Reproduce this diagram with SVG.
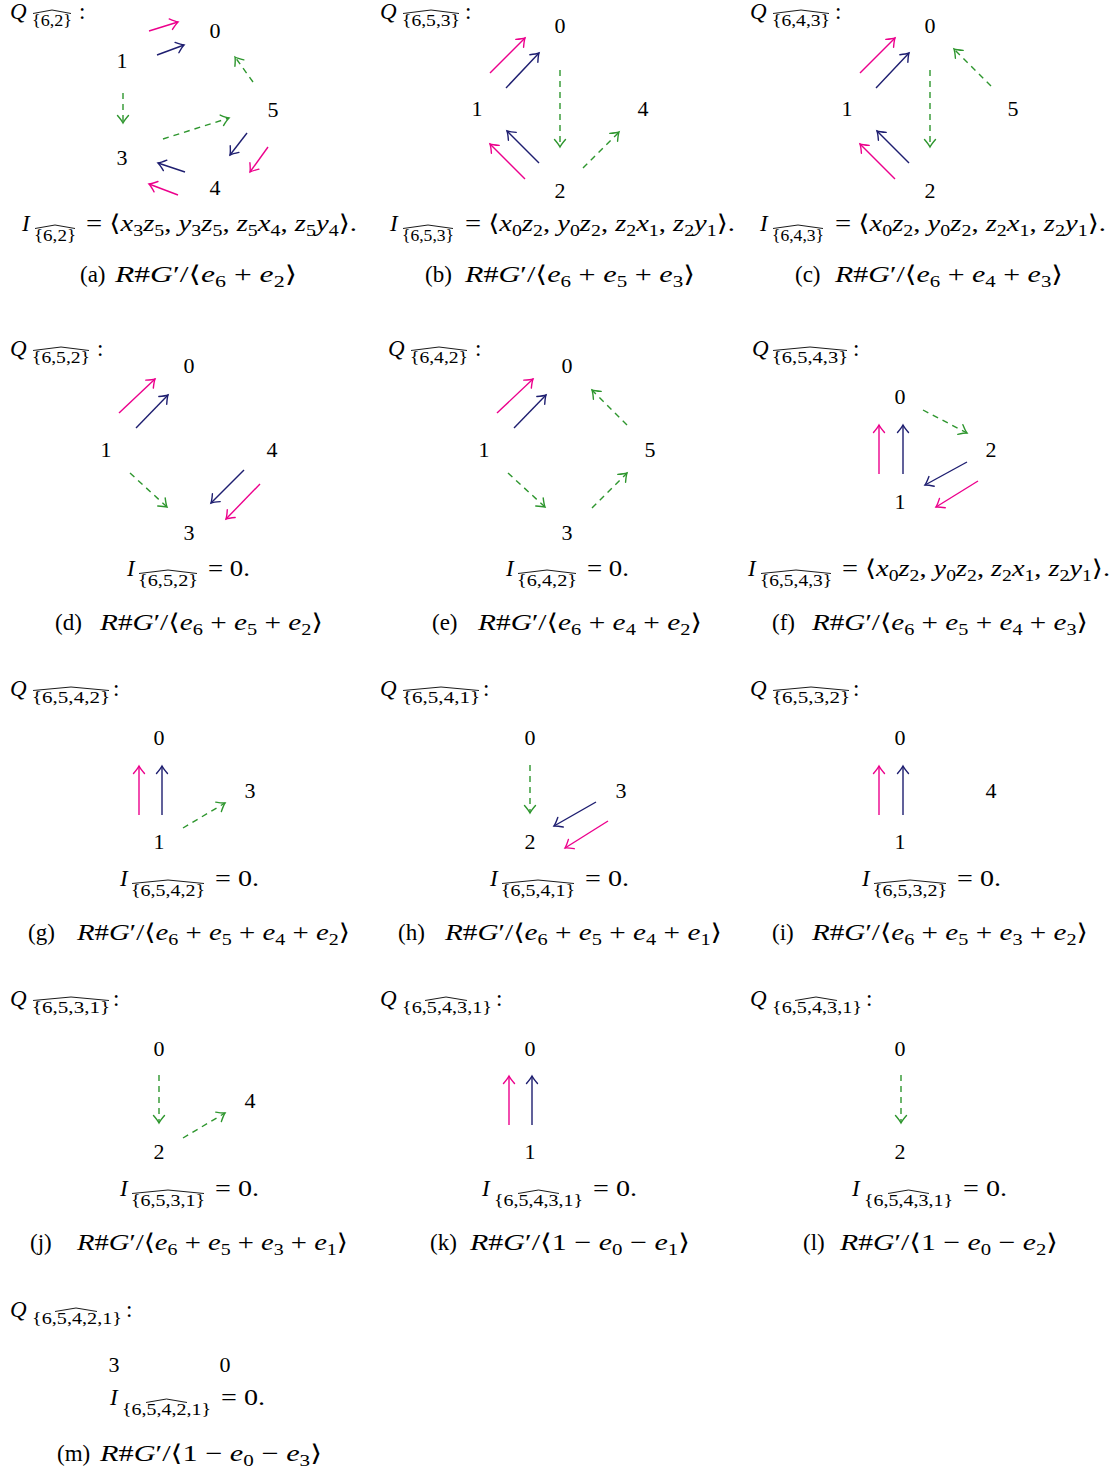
<svg xmlns="http://www.w3.org/2000/svg" width="1118" height="1472" viewBox="0 0 1118 1472">
<style>
.t{font-family:"Liberation Serif","DejaVu Serif",serif;font-size:23px;fill:#000}
.n{font-family:"Liberation Serif","DejaVu Serif",serif;font-size:22px;fill:#000;text-anchor:middle}
.i{font-style:italic}
.s{font-size:16px}
.hat{fill:none;stroke:#000;stroke-width:0.9;stroke-linejoin:round}
.pk{fill:none;stroke:#ec008c;stroke-width:1.4;marker-end:url(#mp)}
.bl{fill:none;stroke:#1e1e70;stroke-width:1.4;marker-end:url(#mb)}
.gr{fill:none;stroke:#2e962e;stroke-width:1.4;stroke-dasharray:6 5;marker-end:url(#mg)}
</style>
<defs>
<marker id="mp" viewBox="-9 -7 10 14" refX="0" refY="0" markerWidth="10" markerHeight="14" markerUnits="userSpaceOnUse" orient="auto" overflow="visible"><path d="M-7.5,-5.5 Q-2.5,-1.2 0,0 Q-2.5,1.2 -7.5,5.5" fill="none" stroke="#ec008c" stroke-width="1.4" stroke-linecap="round"/></marker>
<marker id="mb" viewBox="-9 -7 10 14" refX="0" refY="0" markerWidth="10" markerHeight="14" markerUnits="userSpaceOnUse" orient="auto" overflow="visible"><path d="M-7.5,-5.5 Q-2.5,-1.2 0,0 Q-2.5,1.2 -7.5,5.5" fill="none" stroke="#1e1e70" stroke-width="1.4" stroke-linecap="round"/></marker>
<marker id="mg" viewBox="-9 -7 10 14" refX="0" refY="0" markerWidth="10" markerHeight="14" markerUnits="userSpaceOnUse" orient="auto" overflow="visible"><path d="M-7.5,-5.5 Q-2.5,-1.2 0,0 Q-2.5,1.2 -7.5,5.5" fill="none" stroke="#2e962e" stroke-width="1.4" stroke-linecap="round"/></marker>
</defs>

<!-- (a) -->
<g id="panel-a">
<g id="a-label"><text class="t i" x="10" y="19">Q</text><text class="t s" x="32" y="26" textLength="40" lengthAdjust="spacingAndGlyphs">{6,2}</text><path class="hat" d="M33,13.5 L52,10 L71,13.5"/><text class="t" x="79" y="19">:</text></g>
<g id="a-n0"><text class="n" x="215" y="37.5">0</text></g>
<g id="a-n1"><text class="n" x="122" y="67.5">1</text></g>
<g id="a-n5"><text class="n" x="273" y="116.5">5</text></g>
<g id="a-n3"><text class="n" x="122" y="164.5">3</text></g>
<g id="a-n4"><text class="n" x="215" y="194.5">4</text></g>
<g id="a-edges">
<path class="pk" d="M149,31 L178,22"/><path class="bl" d="M157,55 L184,45"/>
<path class="gr" d="M253,82 L235,57"/><path class="gr" d="M123,93 L123,123"/><path class="gr" d="M163,139 L229,118"/>
<path class="bl" d="M247,133 L230,155"/><path class="pk" d="M268,147 L250,172"/>
<path class="bl" d="M185,172 L158,163"/><path class="pk" d="M178,195 L149,184"/>
</g>
<g id="a-formula"><text class="t i" x="22" y="231">I</text><text class="t s" x="34" y="241" textLength="42" lengthAdjust="spacingAndGlyphs">{6,2}</text><path class="hat" d="M35,228.5 L55,225 L75,228.5"/><text class="t" x="86" y="231" textLength="271" lengthAdjust="spacingAndGlyphs">= ⟨<tspan class="i">x</tspan><tspan class="s" dy="5">3</tspan><tspan class="i" dy="-5">z</tspan><tspan class="s" dy="5">5</tspan><tspan dy="-5">, </tspan><tspan class="i">y</tspan><tspan class="s" dy="5">3</tspan><tspan class="i" dy="-5">z</tspan><tspan class="s" dy="5">5</tspan><tspan dy="-5">, </tspan><tspan class="i">z</tspan><tspan class="s" dy="5">5</tspan><tspan class="i" dy="-5">x</tspan><tspan class="s" dy="5">4</tspan><tspan dy="-5">, </tspan><tspan class="i">z</tspan><tspan class="s" dy="5">5</tspan><tspan class="i" dy="-5">y</tspan><tspan class="s" dy="5">4</tspan><tspan dy="-5">⟩.</tspan></text></g>
<g id="a-caption"><text class="t" x="80" y="282">(a)</text><text class="t" x="115" y="282" textLength="182" lengthAdjust="spacingAndGlyphs"><tspan class="i">R</tspan>#<tspan class="i">G</tspan>′/⟨<tspan class="i">e</tspan><tspan class="s" dy="5">6</tspan><tspan dy="-5"> + </tspan><tspan class="i">e</tspan><tspan class="s" dy="5">2</tspan><tspan dy="-5">⟩</tspan></text></g>
</g>

<!-- (b) -->
<g id="panel-b">
<g id="b-label"><text class="t i" x="380" y="19">Q</text><text class="t s" x="402" y="26" textLength="58" lengthAdjust="spacingAndGlyphs">{6,5,3}</text><path class="hat" d="M403,13.5 L431,10 L459,13.5"/><text class="t" x="465" y="19">:</text></g>
<g id="b-n0"><text class="n" x="560" y="32.5">0</text></g>
<g id="b-n1"><text class="n" x="477" y="115.5">1</text></g>
<g id="b-n4"><text class="n" x="643" y="115.5">4</text></g>
<g id="b-n2"><text class="n" x="560" y="197.5">2</text></g>
<g id="b-edges">
<path class="pk" d="M490,73 L525,38"/><path class="bl" d="M506,88 L539,53"/>
<path class="gr" d="M560,70 L560,147"/><path class="gr" d="M583,168 L619,132"/>
<path class="bl" d="M539,163 L507,131"/><path class="pk" d="M525,179 L490,144"/>
</g>
<g id="b-formula"><text class="t i" x="390" y="231">I</text><text class="t s" x="402" y="241" textLength="52" lengthAdjust="spacingAndGlyphs">{6,5,3}</text><path class="hat" d="M403,228.5 L428,225 L453,228.5"/><text class="t" x="465" y="231" textLength="270" lengthAdjust="spacingAndGlyphs">= ⟨<tspan class="i">x</tspan><tspan class="s" dy="5">0</tspan><tspan class="i" dy="-5">z</tspan><tspan class="s" dy="5">2</tspan><tspan dy="-5">, </tspan><tspan class="i">y</tspan><tspan class="s" dy="5">0</tspan><tspan class="i" dy="-5">z</tspan><tspan class="s" dy="5">2</tspan><tspan dy="-5">, </tspan><tspan class="i">z</tspan><tspan class="s" dy="5">2</tspan><tspan class="i" dy="-5">x</tspan><tspan class="s" dy="5">1</tspan><tspan dy="-5">, </tspan><tspan class="i">z</tspan><tspan class="s" dy="5">2</tspan><tspan class="i" dy="-5">y</tspan><tspan class="s" dy="5">1</tspan><tspan dy="-5">⟩.</tspan></text></g>
<g id="b-caption"><text class="t" x="425" y="282">(b)</text><text class="t" x="465" y="282" textLength="230" lengthAdjust="spacingAndGlyphs"><tspan class="i">R</tspan>#<tspan class="i">G</tspan>′/⟨<tspan class="i">e</tspan><tspan class="s" dy="5">6</tspan><tspan dy="-5"> + </tspan><tspan class="i">e</tspan><tspan class="s" dy="5">5</tspan><tspan dy="-5"> + </tspan><tspan class="i">e</tspan><tspan class="s" dy="5">3</tspan><tspan dy="-5">⟩</tspan></text></g>
</g>

<!-- (c) -->
<g id="panel-c">
<g id="c-label"><text class="t i" x="750" y="19">Q</text><text class="t s" x="772" y="26" textLength="58" lengthAdjust="spacingAndGlyphs">{6,4,3}</text><path class="hat" d="M773,13.5 L801,10 L829,13.5"/><text class="t" x="835" y="19">:</text></g>
<g id="c-n0"><text class="n" x="930" y="32.5">0</text></g>
<g id="c-n1"><text class="n" x="847" y="115.5">1</text></g>
<g id="c-n5"><text class="n" x="1013" y="115.5">5</text></g>
<g id="c-n2"><text class="n" x="930" y="197.5">2</text></g>
<g id="c-edges">
<path class="pk" d="M860,73 L895,38"/><path class="bl" d="M876,88 L909,53"/>
<path class="gr" d="M930,70 L930,147"/><path class="gr" d="M991,86 L954,49"/>
<path class="bl" d="M909,163 L877,131"/><path class="pk" d="M895,179 L860,144"/>
</g>
<g id="c-formula"><text class="t i" x="760" y="231">I</text><text class="t s" x="772" y="241" textLength="52" lengthAdjust="spacingAndGlyphs">{6,4,3}</text><path class="hat" d="M773,228.5 L798,225 L823,228.5"/><text class="t" x="835" y="231" textLength="271" lengthAdjust="spacingAndGlyphs">= ⟨<tspan class="i">x</tspan><tspan class="s" dy="5">0</tspan><tspan class="i" dy="-5">z</tspan><tspan class="s" dy="5">2</tspan><tspan dy="-5">, </tspan><tspan class="i">y</tspan><tspan class="s" dy="5">0</tspan><tspan class="i" dy="-5">z</tspan><tspan class="s" dy="5">2</tspan><tspan dy="-5">, </tspan><tspan class="i">z</tspan><tspan class="s" dy="5">2</tspan><tspan class="i" dy="-5">x</tspan><tspan class="s" dy="5">1</tspan><tspan dy="-5">, </tspan><tspan class="i">z</tspan><tspan class="s" dy="5">2</tspan><tspan class="i" dy="-5">y</tspan><tspan class="s" dy="5">1</tspan><tspan dy="-5">⟩.</tspan></text></g>
<g id="c-caption"><text class="t" x="795" y="282">(c)</text><text class="t" x="835" y="282" textLength="228" lengthAdjust="spacingAndGlyphs"><tspan class="i">R</tspan>#<tspan class="i">G</tspan>′/⟨<tspan class="i">e</tspan><tspan class="s" dy="5">6</tspan><tspan dy="-5"> + </tspan><tspan class="i">e</tspan><tspan class="s" dy="5">4</tspan><tspan dy="-5"> + </tspan><tspan class="i">e</tspan><tspan class="s" dy="5">3</tspan><tspan dy="-5">⟩</tspan></text></g>
</g>

<!-- (d) -->
<g id="panel-d">
<g id="d-label"><text class="t i" x="10" y="356">Q</text><text class="t s" x="32" y="363" textLength="58" lengthAdjust="spacingAndGlyphs">{6,5,2}</text><path class="hat" d="M33,350.5 L61,347 L89,350.5"/><text class="t" x="97" y="356">:</text></g>
<g id="d-n0"><text class="n" x="189" y="372.5">0</text></g>
<g id="d-n1"><text class="n" x="106" y="456.5">1</text></g>
<g id="d-n4"><text class="n" x="272" y="456.5">4</text></g>
<g id="d-n3"><text class="n" x="189" y="539.5">3</text></g>
<g id="d-edges">
<path class="pk" d="M119,413 L155,379"/><path class="bl" d="M136,428 L168,395"/>
<path class="gr" d="M130,473 L167,507"/>
<path class="bl" d="M244,470 L211,503"/><path class="pk" d="M260,484 L226,519"/>
</g>
<g id="d-formula"><text class="t i" x="127" y="576">I</text><text class="t s" x="138" y="586" textLength="60" lengthAdjust="spacingAndGlyphs">{6,5,2}</text><path class="hat" d="M139,573.5 L168,570 L197,573.5"/><text class="t" x="208" y="576" textLength="42" lengthAdjust="spacingAndGlyphs">= 0.</text></g>
<g id="d-caption"><text class="t" x="55" y="630">(d)</text><text class="t" x="100" y="630" textLength="223" lengthAdjust="spacingAndGlyphs"><tspan class="i">R</tspan>#<tspan class="i">G</tspan>′/⟨<tspan class="i">e</tspan><tspan class="s" dy="5">6</tspan><tspan dy="-5"> + </tspan><tspan class="i">e</tspan><tspan class="s" dy="5">5</tspan><tspan dy="-5"> + </tspan><tspan class="i">e</tspan><tspan class="s" dy="5">2</tspan><tspan dy="-5">⟩</tspan></text></g>
</g>

<!-- (e) -->
<g id="panel-e">
<g id="e-label"><text class="t i" x="388" y="356">Q</text><text class="t s" x="410" y="363" textLength="58" lengthAdjust="spacingAndGlyphs">{6,4,2}</text><path class="hat" d="M411,350.5 L439,347 L467,350.5"/><text class="t" x="475" y="356">:</text></g>
<g id="e-n0"><text class="n" x="567" y="372.5">0</text></g>
<g id="e-n1"><text class="n" x="484" y="456.5">1</text></g>
<g id="e-n5"><text class="n" x="650" y="456.5">5</text></g>
<g id="e-n3"><text class="n" x="567" y="539.5">3</text></g>
<g id="e-edges">
<path class="pk" d="M497,413 L533,379"/><path class="bl" d="M514,428 L546,395"/>
<path class="gr" d="M508,473 L545,507"/><path class="gr" d="M592,508 L627,473"/><path class="gr" d="M627,425 L592,390"/>
</g>
<g id="e-formula"><text class="t i" x="506" y="576">I</text><text class="t s" x="517" y="586" textLength="60" lengthAdjust="spacingAndGlyphs">{6,4,2}</text><path class="hat" d="M518,573.5 L547,570 L576,573.5"/><text class="t" x="587" y="576" textLength="42" lengthAdjust="spacingAndGlyphs">= 0.</text></g>
<g id="e-caption"><text class="t" x="432" y="630">(e)</text><text class="t" x="478" y="630" textLength="224" lengthAdjust="spacingAndGlyphs"><tspan class="i">R</tspan>#<tspan class="i">G</tspan>′/⟨<tspan class="i">e</tspan><tspan class="s" dy="5">6</tspan><tspan dy="-5"> + </tspan><tspan class="i">e</tspan><tspan class="s" dy="5">4</tspan><tspan dy="-5"> + </tspan><tspan class="i">e</tspan><tspan class="s" dy="5">2</tspan><tspan dy="-5">⟩</tspan></text></g>
</g>

<!-- (f) -->
<g id="panel-f">
<g id="f-label"><text class="t i" x="752" y="356">Q</text><text class="t s" x="772" y="363" textLength="76" lengthAdjust="spacingAndGlyphs">{6,5,4,3}</text><path class="hat" d="M773,350.5 L810,347 L847,350.5"/><text class="t" x="853" y="356">:</text></g>
<g id="f-n0"><text class="n" x="900" y="403.5">0</text></g>
<g id="f-n2"><text class="n" x="991" y="456.5">2</text></g>
<g id="f-n1"><text class="n" x="900" y="508.5">1</text></g>
<g id="f-edges">
<path class="pk" d="M879,474 L879,425"/><path class="bl" d="M903,474 L903,425"/>
<path class="gr" d="M923,410 L967,433"/>
<path class="bl" d="M967,462 L925,485"/><path class="pk" d="M978,481 L936,507"/>
</g>
<g id="f-formula"><text class="t i" x="748" y="576">I</text><text class="t s" x="760" y="586" textLength="72" lengthAdjust="spacingAndGlyphs">{6,5,4,3}</text><path class="hat" d="M761,573.5 L796,570 L831,573.5"/><text class="t" x="842" y="576" textLength="268" lengthAdjust="spacingAndGlyphs">= ⟨<tspan class="i">x</tspan><tspan class="s" dy="5">0</tspan><tspan class="i" dy="-5">z</tspan><tspan class="s" dy="5">2</tspan><tspan dy="-5">, </tspan><tspan class="i">y</tspan><tspan class="s" dy="5">0</tspan><tspan class="i" dy="-5">z</tspan><tspan class="s" dy="5">2</tspan><tspan dy="-5">, </tspan><tspan class="i">z</tspan><tspan class="s" dy="5">2</tspan><tspan class="i" dy="-5">x</tspan><tspan class="s" dy="5">1</tspan><tspan dy="-5">, </tspan><tspan class="i">z</tspan><tspan class="s" dy="5">2</tspan><tspan class="i" dy="-5">y</tspan><tspan class="s" dy="5">1</tspan><tspan dy="-5">⟩.</tspan></text></g>
<g id="f-caption"><text class="t" x="772" y="630">(f)</text><text class="t" x="812" y="630" textLength="276" lengthAdjust="spacingAndGlyphs"><tspan class="i">R</tspan>#<tspan class="i">G</tspan>′/⟨<tspan class="i">e</tspan><tspan class="s" dy="5">6</tspan><tspan dy="-5"> + </tspan><tspan class="i">e</tspan><tspan class="s" dy="5">5</tspan><tspan dy="-5"> + </tspan><tspan class="i">e</tspan><tspan class="s" dy="5">4</tspan><tspan dy="-5"> + </tspan><tspan class="i">e</tspan><tspan class="s" dy="5">3</tspan><tspan dy="-5">⟩</tspan></text></g>
</g>

<!-- (g) -->
<g id="panel-g">
<g id="g-label"><text class="t i" x="10" y="696">Q</text><text class="t s" x="32" y="703" textLength="78" lengthAdjust="spacingAndGlyphs">{6,5,4,2}</text><path class="hat" d="M33,690.5 L71,687 L109,690.5"/><text class="t" x="113" y="696">:</text></g>
<g id="g-n0"><text class="n" x="159" y="744.5">0</text></g>
<g id="g-n3"><text class="n" x="250" y="797.5">3</text></g>
<g id="g-n1"><text class="n" x="159" y="848.5">1</text></g>
<g id="g-edges">
<path class="pk" d="M139,815 L139,766"/><path class="bl" d="M162,815 L162,766"/>
<path class="gr" d="M183,828 L225,803"/>
</g>
<g id="g-formula"><text class="t i" x="120" y="886">I</text><text class="t s" x="131" y="896" textLength="74" lengthAdjust="spacingAndGlyphs">{6,5,4,2}</text><path class="hat" d="M132,883.5 L168,880 L204,883.5"/><text class="t" x="215" y="886" textLength="44" lengthAdjust="spacingAndGlyphs">= 0.</text></g>
<g id="g-caption"><text class="t" x="28" y="940">(g)</text><text class="t" x="77" y="940" textLength="273" lengthAdjust="spacingAndGlyphs"><tspan class="i">R</tspan>#<tspan class="i">G</tspan>′/⟨<tspan class="i">e</tspan><tspan class="s" dy="5">6</tspan><tspan dy="-5"> + </tspan><tspan class="i">e</tspan><tspan class="s" dy="5">5</tspan><tspan dy="-5"> + </tspan><tspan class="i">e</tspan><tspan class="s" dy="5">4</tspan><tspan dy="-5"> + </tspan><tspan class="i">e</tspan><tspan class="s" dy="5">2</tspan><tspan dy="-5">⟩</tspan></text></g>
</g>

<!-- (h) -->
<g id="panel-h">
<g id="h-label"><text class="t i" x="380" y="696">Q</text><text class="t s" x="402" y="703" textLength="78" lengthAdjust="spacingAndGlyphs">{6,5,4,1}</text><path class="hat" d="M403,690.5 L441,687 L479,690.5"/><text class="t" x="483" y="696">:</text></g>
<g id="h-n0"><text class="n" x="530" y="744.5">0</text></g>
<g id="h-n3"><text class="n" x="621" y="797.5">3</text></g>
<g id="h-n2"><text class="n" x="530" y="848.5">2</text></g>
<g id="h-edges">
<path class="gr" d="M530,765 L530,813"/>
<path class="bl" d="M596,802 L554,826"/><path class="pk" d="M608,821 L565,848"/>
</g>
<g id="h-formula"><text class="t i" x="490" y="886">I</text><text class="t s" x="501" y="896" textLength="74" lengthAdjust="spacingAndGlyphs">{6,5,4,1}</text><path class="hat" d="M502,883.5 L538,880 L574,883.5"/><text class="t" x="585" y="886" textLength="44" lengthAdjust="spacingAndGlyphs">= 0.</text></g>
<g id="h-caption"><text class="t" x="398" y="940">(h)</text><text class="t" x="445" y="940" textLength="277" lengthAdjust="spacingAndGlyphs"><tspan class="i">R</tspan>#<tspan class="i">G</tspan>′/⟨<tspan class="i">e</tspan><tspan class="s" dy="5">6</tspan><tspan dy="-5"> + </tspan><tspan class="i">e</tspan><tspan class="s" dy="5">5</tspan><tspan dy="-5"> + </tspan><tspan class="i">e</tspan><tspan class="s" dy="5">4</tspan><tspan dy="-5"> + </tspan><tspan class="i">e</tspan><tspan class="s" dy="5">1</tspan><tspan dy="-5">⟩</tspan></text></g>
</g>

<!-- (i) -->
<g id="panel-i">
<g id="i-label"><text class="t i" x="750" y="696">Q</text><text class="t s" x="772" y="703" textLength="78" lengthAdjust="spacingAndGlyphs">{6,5,3,2}</text><path class="hat" d="M773,690.5 L811,687 L849,690.5"/><text class="t" x="853" y="696">:</text></g>
<g id="i-n0"><text class="n" x="900" y="744.5">0</text></g>
<g id="i-n4"><text class="n" x="991" y="797.5">4</text></g>
<g id="i-n1"><text class="n" x="900" y="848.5">1</text></g>
<g id="i-edges">
<path class="pk" d="M879,815 L879,766"/><path class="bl" d="M903,815 L903,766"/>
</g>
<g id="i-formula"><text class="t i" x="862" y="886">I</text><text class="t s" x="873" y="896" textLength="74" lengthAdjust="spacingAndGlyphs">{6,5,3,2}</text><path class="hat" d="M874,883.5 L910,880 L946,883.5"/><text class="t" x="957" y="886" textLength="44" lengthAdjust="spacingAndGlyphs">= 0.</text></g>
<g id="i-caption"><text class="t" x="772" y="940">(i)</text><text class="t" x="812" y="940" textLength="276" lengthAdjust="spacingAndGlyphs"><tspan class="i">R</tspan>#<tspan class="i">G</tspan>′/⟨<tspan class="i">e</tspan><tspan class="s" dy="5">6</tspan><tspan dy="-5"> + </tspan><tspan class="i">e</tspan><tspan class="s" dy="5">5</tspan><tspan dy="-5"> + </tspan><tspan class="i">e</tspan><tspan class="s" dy="5">3</tspan><tspan dy="-5"> + </tspan><tspan class="i">e</tspan><tspan class="s" dy="5">2</tspan><tspan dy="-5">⟩</tspan></text></g>
</g>

<!-- (j) -->
<g id="panel-j">
<g id="j-label"><text class="t i" x="10" y="1006">Q</text><text class="t s" x="32" y="1013" textLength="78" lengthAdjust="spacingAndGlyphs">{6,5,3,1}</text><path class="hat" d="M33,1000.5 L71,997 L109,1000.5"/><text class="t" x="113" y="1006">:</text></g>
<g id="j-n0"><text class="n" x="159" y="1055.5">0</text></g>
<g id="j-n4"><text class="n" x="250" y="1107.5">4</text></g>
<g id="j-n2"><text class="n" x="159" y="1158.5">2</text></g>
<g id="j-edges">
<path class="gr" d="M159,1075 L159,1123"/><path class="gr" d="M183,1138 L225,1113"/>
</g>
<g id="j-formula"><text class="t i" x="120" y="1196">I</text><text class="t s" x="131" y="1206" textLength="74" lengthAdjust="spacingAndGlyphs">{6,5,3,1}</text><path class="hat" d="M132,1193.5 L168,1190 L204,1193.5"/><text class="t" x="215" y="1196" textLength="44" lengthAdjust="spacingAndGlyphs">= 0.</text></g>
<g id="j-caption"><text class="t" x="30" y="1250">(j)</text><text class="t" x="77" y="1250" textLength="271" lengthAdjust="spacingAndGlyphs"><tspan class="i">R</tspan>#<tspan class="i">G</tspan>′/⟨<tspan class="i">e</tspan><tspan class="s" dy="5">6</tspan><tspan dy="-5"> + </tspan><tspan class="i">e</tspan><tspan class="s" dy="5">5</tspan><tspan dy="-5"> + </tspan><tspan class="i">e</tspan><tspan class="s" dy="5">3</tspan><tspan dy="-5"> + </tspan><tspan class="i">e</tspan><tspan class="s" dy="5">1</tspan><tspan dy="-5">⟩</tspan></text></g>
</g>

<!-- (k) -->
<g id="panel-k">
<g id="k-label"><text class="t i" x="380" y="1006">Q</text><text class="t s" x="402" y="1013" textLength="90" lengthAdjust="spacingAndGlyphs">{6,5,4,3,1}</text><path class="hat" d="M425,1000.5 L446,997 L467,1000.5"/><text class="t" x="496" y="1006">:</text></g>
<g id="k-n0"><text class="n" x="530" y="1055.5">0</text></g>
<g id="k-n1"><text class="n" x="530" y="1158.5">1</text></g>
<g id="k-edges">
<path class="pk" d="M509,1125 L509,1076"/><path class="bl" d="M532,1125 L532,1076"/>
</g>
<g id="k-formula"><text class="t i" x="482" y="1196">I</text><text class="t s" x="494" y="1206" textLength="89" lengthAdjust="spacingAndGlyphs">{6,5,4,3,1}</text><path class="hat" d="M518,1193.5 L538.5,1190 L559,1193.5"/><text class="t" x="593" y="1196" textLength="44" lengthAdjust="spacingAndGlyphs">= 0.</text></g>
<g id="k-caption"><text class="t" x="430" y="1250">(k)</text><text class="t" x="470" y="1250" textLength="220" lengthAdjust="spacingAndGlyphs"><tspan class="i">R</tspan>#<tspan class="i">G</tspan>′/⟨1 − <tspan class="i">e</tspan><tspan class="s" dy="5">0</tspan><tspan dy="-5"> − </tspan><tspan class="i">e</tspan><tspan class="s" dy="5">1</tspan><tspan dy="-5">⟩</tspan></text></g>
</g>

<!-- (l) -->
<g id="panel-l">
<g id="l-label"><text class="t i" x="750" y="1006">Q</text><text class="t s" x="772" y="1013" textLength="90" lengthAdjust="spacingAndGlyphs">{6,5,4,3,1}</text><path class="hat" d="M795,1000.5 L816,997 L837,1000.5"/><text class="t" x="866" y="1006">:</text></g>
<g id="l-n0"><text class="n" x="900" y="1055.5">0</text></g>
<g id="l-n2"><text class="n" x="900" y="1158.5">2</text></g>
<g id="l-edges">
<path class="gr" d="M901,1075 L901,1123"/>
</g>
<g id="l-formula"><text class="t i" x="852" y="1196">I</text><text class="t s" x="864" y="1206" textLength="89" lengthAdjust="spacingAndGlyphs">{6,5,4,3,1}</text><path class="hat" d="M888,1193.5 L908.5,1190 L929,1193.5"/><text class="t" x="963" y="1196" textLength="44" lengthAdjust="spacingAndGlyphs">= 0.</text></g>
<g id="l-caption"><text class="t" x="803" y="1250">(l)</text><text class="t" x="840" y="1250" textLength="218" lengthAdjust="spacingAndGlyphs"><tspan class="i">R</tspan>#<tspan class="i">G</tspan>′/⟨1 − <tspan class="i">e</tspan><tspan class="s" dy="5">0</tspan><tspan dy="-5"> − </tspan><tspan class="i">e</tspan><tspan class="s" dy="5">2</tspan><tspan dy="-5">⟩</tspan></text></g>
</g>

<!-- (m) -->
<g id="panel-m">
<g id="m-label"><text class="t i" x="10" y="1317">Q</text><text class="t s" x="32" y="1324" textLength="90" lengthAdjust="spacingAndGlyphs">{6,5,4,2,1}</text><path class="hat" d="M55,1311.5 L76,1308 L97,1311.5"/><text class="t" x="126" y="1317">:</text></g>
<g id="m-n3"><text class="n" x="114" y="1372">3</text></g>
<g id="m-n0"><text class="n" x="225" y="1372">0</text></g>
<g id="m-edges"></g>
<g id="m-formula"><text class="t i" x="110" y="1405">I</text><text class="t s" x="122" y="1415" textLength="89" lengthAdjust="spacingAndGlyphs">{6,5,4,2,1}</text><path class="hat" d="M146,1402.5 L166.5,1399 L187,1402.5"/><text class="t" x="221" y="1405" textLength="44" lengthAdjust="spacingAndGlyphs">= 0.</text></g>
<g id="m-caption"><text class="t" x="57" y="1461">(m)</text><text class="t" x="100" y="1461" textLength="222" lengthAdjust="spacingAndGlyphs"><tspan class="i">R</tspan>#<tspan class="i">G</tspan>′/⟨1 − <tspan class="i">e</tspan><tspan class="s" dy="5">0</tspan><tspan dy="-5"> − </tspan><tspan class="i">e</tspan><tspan class="s" dy="5">3</tspan><tspan dy="-5">⟩</tspan></text></g>
</g>
</svg>
